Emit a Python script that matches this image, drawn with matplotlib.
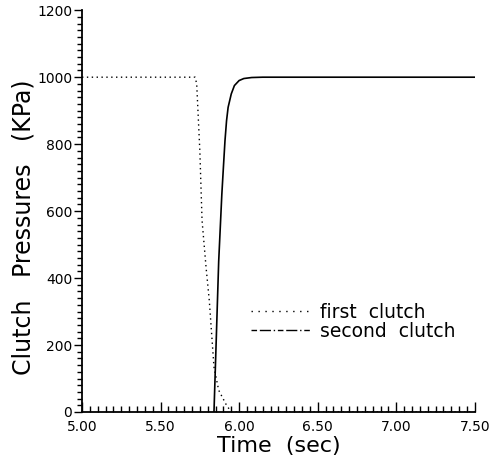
import matplotlib
matplotlib.use("Agg")
import matplotlib.pyplot as plt
from matplotlib.ticker import MultipleLocator, FormatStrFormatter
from matplotlib.lines import Line2D

first_t = [5.00, 5.72, 5.73, 5.75, 5.764, 5.79, 5.81, 5.84, 5.87, 5.92, 5.95, 7.50]
first_p = [1000, 1000, 980, 780, 573, 430, 334, 134, 65, 20, 0, 0]

second_t = [5.84, 5.85, 5.87, 5.89, 5.90, 5.91, 5.92, 5.93, 5.95, 5.97, 6.00, 6.03, 6.08, 6.15, 7.50]
second_p = [0, 150, 450, 650, 731, 810, 870, 910, 950, 975, 990, 996, 999, 1000, 1000]

labels = ["first  clutch", "second  clutch"]

fig = plt.figure(figsize=(4.91, 4.65), dpi=100)
ax = fig.add_axes([0.167, 0.114, 0.800, 0.864])
ax.plot(first_t, first_p, color="black", lw=1.0, linestyle=(0, (1, 2.5)))
ax.plot(second_t, second_p, color="black", lw=1.2, linestyle="-")

ax.set_xlim(5.0, 7.5)
ax.set_ylim(0, 1200)
for s in ["top", "right"]:
    ax.spines[s].set_visible(False)
ax.spines["left"].set_linewidth(1.3)
ax.spines["bottom"].set_linewidth(1.3)

ax.xaxis.set_major_locator(MultipleLocator(0.5))
ax.xaxis.set_minor_locator(MultipleLocator(0.05))
ax.xaxis.set_major_formatter(FormatStrFormatter("%.2f"))
ax.yaxis.set_major_locator(MultipleLocator(200))
ax.yaxis.set_minor_locator(MultipleLocator(20))
ax.tick_params(axis="x", which="major", direction="in", length=7, width=1, labelsize=10, pad=6)
ax.tick_params(axis="x", which="minor", direction="in", length=4, width=1)
ax.tick_params(axis="y", which="major", direction="out", length=6, width=1, labelsize=10, pad=1)
ax.tick_params(axis="y", which="minor", direction="out", length=3.5, width=1)

ax.set_xlabel("Time  (sec)", fontsize=16, labelpad=1)
ax.set_ylabel("Clutch   Pressures   (KPa)", fontsize=17, va="center")
ax.yaxis.set_label_coords(-0.148, 0.46)

handles = [Line2D([], [], color="black", lw=1.0, linestyle=(0, (1, 4))),
           Line2D([], [], color="black", lw=1.0, linestyle=(0, (4, 2, 8, 2, 1, 2)))]
ax.legend(handles, labels, loc="upper left", bbox_to_anchor=(0.41, 0.29),
          frameon=False, fontsize=13.5, handlelength=3.3, handletextpad=0.4,
          labelspacing=0.0, borderaxespad=0)

fig.savefig("out.png", dpi=100)
